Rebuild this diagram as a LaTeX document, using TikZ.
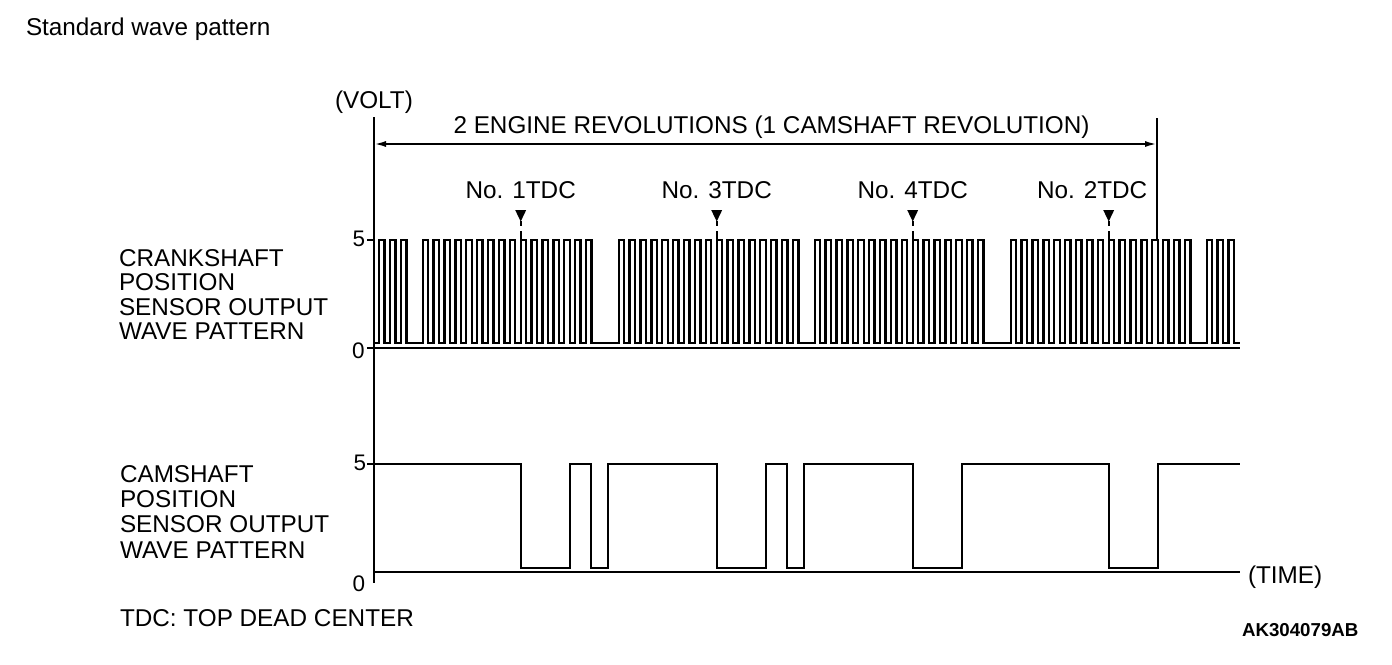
\documentclass[tikz,border=0pt]{standalone}
\usepackage{fontspec}
\setmainfont{Liberation Sans}
\usetikzlibrary{arrows.meta}
\begin{document}
\begin{tikzpicture}[x=1pt,y=-1pt,
  lbl/.style={font=\fontsize{24.3}{26}\selectfont, inner sep=0pt, outer sep=0pt},
  num/.style={font=\fontsize{22.5}{23}\selectfont, inner sep=0pt, outer sep=0pt},
  code/.style={font=\bfseries\fontsize{18.7}{19}\selectfont, inner sep=0pt, outer sep=0pt},
  axisline/.style={line width=2pt},
  crankwave/.style={line width=2.4pt},
  camwave/.style={line width=2.1pt},
  dimline/.style={line width=2pt, {Latex[length=12pt,width=6pt]}-{Latex[length=12pt,width=6pt]}},
  tdcline/.style={line width=1.6pt},
]
\fill[white] (0,0) rectangle (1392,664);
\useasboundingbox (0,0) rectangle (1392,664);

% titles and labels
\node[lbl, anchor=base west] (title) at (26,35.5) {Standard wave pattern};
\node[lbl, anchor=base west] (volt) at (335,108.3) {(VOLT)};
\node[lbl, anchor=base] (rev) at (771.5,133.3) {2 ENGINE REVOLUTIONS (1 CAMSHAFT REVOLUTION)};

\node[lbl, anchor=base west] (cr1) at (119,266) {CRANKSHAFT};
\node[lbl, anchor=base west] (cr2) at (119,290.5) {POSITION};
\node[lbl, anchor=base west] (cr3) at (119,315) {SENSOR OUTPUT};
\node[lbl, anchor=base west] (cr4) at (119,339.5) {WAVE PATTERN};

\node[lbl, anchor=base west] (cm1) at (120,482.7) {CAMSHAFT};
\node[lbl, anchor=base west] (cm2) at (120,507.7) {POSITION};
\node[lbl, anchor=base west] (cm3) at (120,532.7) {SENSOR OUTPUT};
\node[lbl, anchor=base west] (cm4) at (120,558) {WAVE PATTERN};

\node[lbl, anchor=base west] (tdcdef) at (120,626.7) {TDC: TOP DEAD CENTER};
\node[lbl, anchor=base west] (time) at (1248,583.3) {(TIME)};
\node[code, anchor=base west] (code) at (1242,636.7) {AK304079AB};

% axis numbers
\node[num, anchor=base] (c5) at (359,246) {5};
\node[num, anchor=base] (c0) at (358.5,358.3) {0};
\node[num, anchor=base] (m5) at (360,470.7) {5};
\node[num, anchor=base] (m0) at (359,591.7) {0};

% axes
\coordinate (axT) at (374,117);
\coordinate (axB) at (374,583);
\draw[axisline] (axT) -- (axB);
\draw[axisline] (367,347.5) -- (1240,347.5);
\draw[axisline] (367,240) -- (374,240);
\draw[axisline] (367,464) -- (374,464);
\draw[axisline] (374,572) -- (1240,572);

% dimension line
\coordinate (dimL) at (374,144);
\coordinate (dimR) at (1157,144);
\draw[dimline] (dimL) -- (dimR);
\coordinate (revT) at (1157,118);
\coordinate (revB) at (1157,240);
\draw[axisline] (revT) -- (revB);

% TDC markers
\foreach \x in {520.7,716.7,912.7,1108.7}{
  \fill ({\x-5.5},210) -- ({\x+5.5},210) -- (\x,221.5) -- cycle;
  \draw[tdcline] (\x,221) -- (\x,226) (\x,231) -- (\x,240);
}
\node[lbl, anchor=base] (t1) at (520.7,198.3) {No. 1TDC};
\node[lbl, anchor=base] (t3) at (716.7,198.3) {No. 3TDC};
\node[lbl, anchor=base] (t4) at (912.7,198.3) {No. 4TDC};
\node[lbl, anchor=base west] (t2) at (1037,198.3) {No. 2TDC};

% crankshaft wave
\draw[crankwave] (375,343)
  \foreach \s/\a/\b in {226.7/14/16, 422.7/0/15, 618.7/0/16, 814.7/0/15, 1010.7/0/16, 1206.7/0/2}{
    \foreach \k in {\a,...,\b}{
      -- ({\s+10.889*\k},343) -- ({\s+10.889*\k},240) -- ({\s+10.889*\k+5.44},240) -- ({\s+10.889*\k+5.44},343)
    }
  } -- (1240,343);

% camshaft wave
\draw[camwave] (374,464) -- (520.7,464) -- (520.7,568) -- (570,568) -- (570,464)
  -- (591,464) -- (591,568) -- (608,568) -- (608,464)
  -- (716.7,464) -- (716.7,568) -- (766,568) -- (766,464)
  -- (787,464) -- (787,568) -- (804,568) -- (804,464)
  -- (912.7,464) -- (912.7,568) -- (962,568) -- (962,464)
  -- (1108.7,464) -- (1108.7,568) -- (1158,568) -- (1158,464) -- (1240,464);
\end{tikzpicture}
\end{document}
